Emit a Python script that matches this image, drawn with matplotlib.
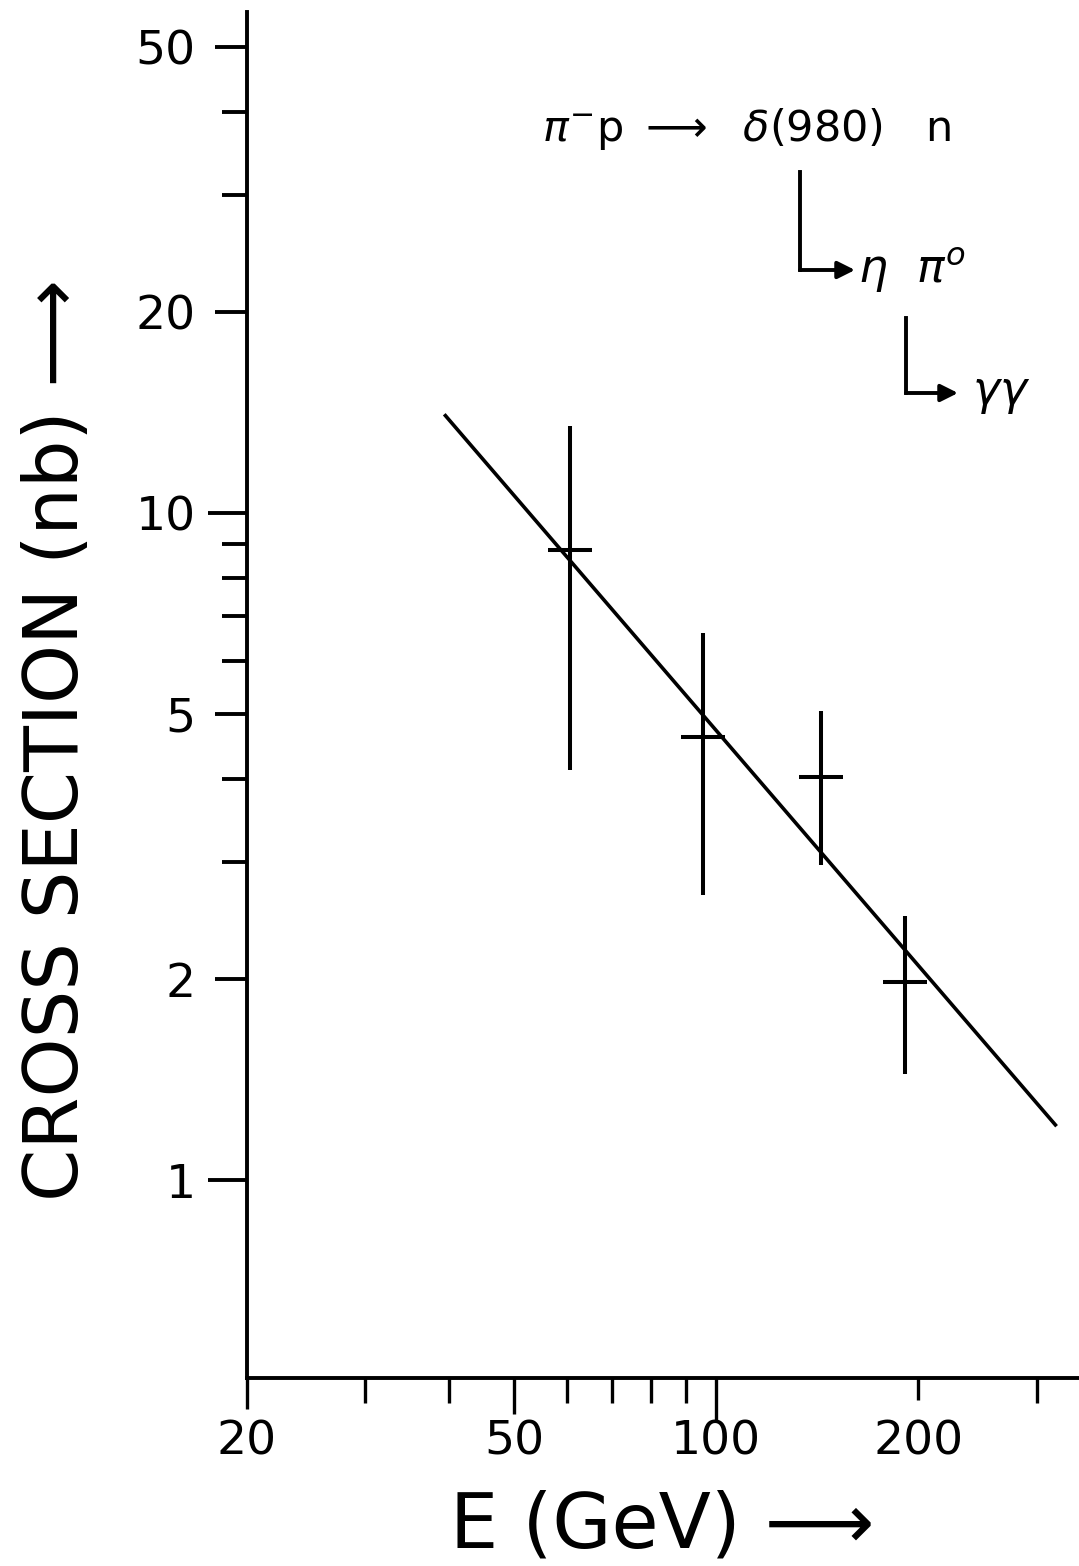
import matplotlib
matplotlib.use("Agg")
import matplotlib.pyplot as plt
from matplotlib.lines import Line2D

plt.rcParams['font.family'] = ['DejaVu Sans']

# measured cross sections, pi- p -> delta(980) n
E_gev = [60.5, 95.5, 143, 191]
sigma_nb = [8.8, 4.62, 4.02, 1.98]
sigma_hi = [13.5, 6.61, 5.05, 2.49]
sigma_lo = [4.12, 2.68, 2.97, 1.44]

# power-law fit, drawn between its end points
fit_E = [39.5, 320]
fit_sigma = [14.0, 1.21]

# axis ticks
y_major = [1, 2, 5, 10, 20, 50]
y_minor = [3, 4, 6, 7, 8, 9, 30, 40]
x_major = [20, 50, 100, 200]
x_minor = [30, 40, 60, 70, 80, 90, 300]

fig = plt.figure(figsize=(10.79, 15.66), dpi=100)
ax = fig.add_axes([247/1079, 188/1566, 832/1079, 1366/1566])
ax.set_xscale('log')
ax.set_yscale('log')
ax.set_xlim(20, 347)
ax.set_ylim(0.505, 56.4)

for s in ['top', 'right']:
    ax.spines[s].set_visible(False)
for s in ['left', 'bottom']:
    ax.spines[s].set_linewidth(2.8)

ax.set_yticks(y_major)
ax.set_yticklabels([str(v) for v in y_major])
ax.set_yticks(y_minor, minor=True)
ax.set_yticklabels([], minor=True)
ax.set_xticks(x_major)
ax.set_xticklabels([str(v) for v in x_major])
ax.set_xticks(x_minor, minor=True)
ax.set_xticklabels([], minor=True)

ax.tick_params(axis='y', which='major', length=23, width=2.8, labelsize=34, pad=14)
ax.tick_params(axis='y', which='minor', length=18, width=2.8)
ax.tick_params(axis='x', which='major', length=18, width=2.4, labelsize=34, pad=12)
ax.tick_params(axis='x', which='minor', length=18, width=2.4)

# longer ticks at the decade marks
for v, t in zip(y_major, ax.yaxis.get_major_ticks()):
    if v in (1, 10):
        t.tick1line.set_markersize(28)
x_len = {20: 22, 50: 26, 100: 30, 200: 16}
for v, t in zip(x_major, ax.xaxis.get_major_ticks()):
    t.tick1line.set_markersize(x_len[v])

# fit line
ax.plot(fit_E, fit_sigma, color='black', lw=2.6)

# data points with vertical error bars and a short horizontal bar
yerr = [[s - lo for s, lo in zip(sigma_nb, sigma_lo)],
        [hi - s for s, hi in zip(sigma_nb, sigma_hi)]]
ax.errorbar(E_gev, sigma_nb, yerr=yerr, fmt='none', ecolor='black',
            elinewidth=2.9, capsize=0)
ax.plot(E_gev, sigma_nb, ls='none', marker='_', markersize=32,
        markeredgewidth=2.9, color='black')

# reaction chain
ax.text(0.354, 0.914, r'$\pi^{-}$p $\longrightarrow$  $\delta$(980)   n',
        transform=ax.transAxes, fontsize=31, va='center', ha='left')

def branch(x0, y0, y1, x1):
    ax.add_line(Line2D([x0, x0], [y0, y1], color='black', lw=2.8,
                       transform=ax.transAxes))
    ax.annotate('', xy=(x1, y1), xytext=(x0, y1),
                xycoords='axes fraction', textcoords='axes fraction',
                arrowprops=dict(arrowstyle='-|>', color='black', lw=2.8,
                                mutation_scale=26, shrinkA=0, shrinkB=0))

branch((800 - 247)/832, (1378 - 172)/1366, (1378 - 270)/1366, (855 - 247)/832)
ax.text((858 - 247)/832, (1378 - 270)/1366, r'$\eta$  $\pi^{o}$',
        transform=ax.transAxes, fontsize=33, va='center', ha='left')
branch((906 - 247)/832, (1378 - 318)/1366, (1378 - 393)/1366, (958 - 247)/832)
ax.text((972 - 247)/832, (1378 - 393)/1366, r'$\gamma\gamma$',
        transform=ax.transAxes, fontsize=33, va='center', ha='left')

fig.text(58/1079, 1-740/1566, 'CROSS SECTION (nb) \u27f6', rotation=90,
         fontsize=54, ha='center', va='center')
fig.text(662/1079, 1-1527/1566, 'E (GeV) \u27f6',
         fontsize=55, ha='center', va='center')

fig.savefig('out.png', dpi=100)
